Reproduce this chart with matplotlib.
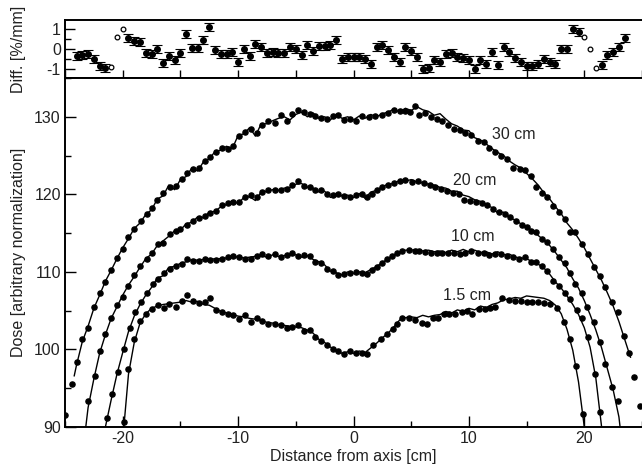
import numpy as np
import matplotlib
matplotlib.use("Agg")
import matplotlib.pyplot as plt
from matplotlib.ticker import MultipleLocator

plt.rcParams['font.family'] = ['Liberation Sans', 'DejaVu Sans']
plt.rcParams['font.size'] = 11.5
plt.rcParams['axes.unicode_minus'] = False

# ---- measured dose profiles (dots) ----
d30_x = [-25.0, -24.4, -24.0, -23.5, -23.0, -22.5, -22.0, -21.5, -21.0, -20.5,
         -20.0, -19.5, -19.0, -18.4, -17.9, -17.5, -17.0, -16.5, -15.9, -15.4,
         -14.9, -14.4, -13.9, -13.4, -12.9, -12.4, -11.9, -11.4, -10.9, -10.4,
         -9.9, -9.4, -8.9, -8.4, -7.9, -7.4, -6.8, -6.3, -5.8, -5.3,
         -4.8, -4.3, -3.8, -3.3, -2.8, -2.3, -1.8, -1.3, -0.8, -0.3,
         0.2, 0.7, 1.3, 1.9, 2.5, 3.0, 3.5, 4.0, 4.5, 4.9,
         5.3, 5.7, 6.2, 6.7, 7.2, 7.7, 8.2, 8.7, 9.2, 9.7,
         10.2, 10.8, 11.3, 11.7, 12.3, 12.8, 13.3, 13.8, 14.4, 14.9,
         15.4, 15.8, 16.3, 16.8, 17.3, 17.8, 18.3, 18.8, 19.2, 19.8,
         20.3, 20.8, 21.4, 21.8, 22.4, 22.9, 23.4, 23.9, 24.3, 24.8]
d30_y = [91.6, 95.6, 98.4, 101.3, 102.8, 105.5, 107.3, 108.7, 110.3, 111.8,
         113.0, 114.5, 115.5, 116.5, 117.5, 118.3, 119.3, 120.2, 120.9, 121.1,
         122.0, 122.7, 123.3, 123.4, 124.3, 124.8, 125.4, 126.0, 125.8, 126.2,
         127.5, 128.1, 128.4, 127.9, 129.0, 129.4, 129.2, 130.2, 129.4, 130.4,
         130.9, 130.6, 130.4, 130.1, 129.9, 129.7, 130.1, 130.2, 129.6, 129.7,
         129.4, 130.1, 130.0, 130.1, 130.2, 130.5, 130.9, 130.7, 130.7, 130.6,
         131.4, 130.2, 130.5, 130.0, 129.7, 129.4, 129.0, 128.4, 128.3, 127.9,
         127.6, 126.9, 126.7, 126.0, 125.4, 124.9, 124.5, 123.4, 123.3, 123.2,
         122.3, 120.9, 120.2, 119.6, 118.5, 117.7, 116.8, 115.1, 115.1, 113.6,
         112.3, 110.6, 109.5, 108.1, 106.1, 104.8, 101.7, 99.5, 96.4, 92.7]

d20_x = [-23.0, -22.4, -22.0, -21.5, -21.0, -20.5, -20.0, -19.5, -19.0, -18.5,
         -17.9, -17.5, -16.9, -16.5, -15.9, -15.4, -15.0, -14.4, -13.9, -13.4,
         -12.9, -12.4, -11.9, -11.4, -10.9, -10.4, -9.9, -9.4, -8.9, -8.4,
         -7.9, -7.4, -6.8, -6.3, -5.8, -5.3, -4.8, -4.3, -3.8, -3.3,
         -2.8, -2.3, -1.8, -1.3, -0.8, -0.3, 0.2, 0.7, 1.2, 1.6,
         2.0, 2.5, 3.0, 3.5, 4.0, 4.5, 5.1, 5.6, 6.1, 6.6,
         7.1, 7.6, 8.1, 8.6, 9.1, 9.6, 10.1, 10.6, 11.1, 11.6,
         12.1, 12.6, 13.1, 13.6, 14.1, 14.6, 15.0, 15.4, 15.8, 16.3,
         16.8, 17.3, 17.8, 18.3, 18.8, 19.2, 19.8, 20.2, 20.8, 21.4,
         21.8, 22.4, 22.9]
d20_y = [93.3, 96.6, 99.8, 102.0, 104.0, 105.7, 106.8, 108.2, 109.6, 110.7,
         111.6, 112.5, 113.6, 113.7, 114.9, 115.3, 115.5, 116.0, 116.6, 117.0,
         117.2, 117.6, 117.9, 118.6, 118.9, 119.0, 119.0, 119.6, 119.9, 119.6,
         120.3, 120.5, 120.5, 120.5, 120.7, 121.2, 121.7, 121.1, 120.9, 120.6,
         120.6, 120.0, 119.9, 120.0, 119.8, 119.7, 119.9, 120.0, 119.7, 120.1,
         120.6, 120.9, 121.2, 121.5, 121.7, 121.8, 121.6, 121.7, 121.4, 121.2,
         121.0, 120.7, 120.4, 120.2, 120.0, 119.3, 119.1, 119.0, 118.9, 118.6,
         118.1, 117.7, 117.4, 117.1, 116.6, 116.0, 115.8, 115.3, 115.1, 114.3,
         113.8, 112.9, 111.9, 111.1, 109.8, 108.5, 107.3, 105.5, 103.5, 100.9,
         98.1, 95.1, 93.3]

d10_x = [-21.4, -20.9, -20.4, -19.9, -19.4, -18.9, -18.4, -17.9, -17.4, -16.9,
         -16.4, -15.9, -15.4, -14.9, -14.4, -13.9, -13.4, -12.9, -12.4, -11.9,
         -11.4, -10.9, -10.4, -9.9, -9.4, -8.9, -8.4, -7.9, -7.4, -6.8,
         -6.3, -5.8, -5.3, -4.8, -4.3, -3.8, -3.3, -2.8, -2.3, -1.8,
         -1.3, -0.8, -0.3, 0.2, 0.7, 1.2, 1.6, 2.0, 2.5, 2.9,
         3.3, 3.8, 4.2, 4.8, 5.3, 5.7, 6.2, 6.7, 7.2, 7.7,
         8.2, 8.7, 9.2, 9.7, 10.2, 10.8, 11.3, 11.7, 12.3, 12.8,
         13.3, 13.8, 14.3, 14.9, 15.4, 15.8, 16.3, 16.8, 17.3, 17.8,
         18.3, 18.8, 19.4, 19.8, 20.3, 20.9, 21.4]
d10_y = [91.1, 94.3, 97.1, 100.0, 102.8, 104.8, 106.1, 107.3, 108.4, 109.1,
         109.9, 110.4, 110.7, 111.0, 111.6, 111.4, 111.4, 111.6, 111.5, 111.5,
         111.6, 111.9, 112.1, 111.9, 111.7, 111.7, 112.0, 112.3, 112.1, 112.3,
         111.9, 112.2, 112.4, 112.1, 112.2, 112.1, 111.3, 111.2, 110.4, 110.1,
         109.6, 109.7, 109.8, 110.0, 109.9, 109.7, 110.3, 110.6, 111.2, 111.6,
         112.1, 112.5, 112.7, 112.8, 112.7, 112.7, 112.6, 112.5, 112.4, 112.5,
         112.4, 112.5, 112.3, 112.5, 112.7, 112.5, 112.4, 112.2, 112.3, 112.3,
         112.1, 111.9, 111.7, 111.9, 111.3, 111.3, 110.8, 110.1, 108.8, 108.2,
         107.3, 106.5, 105.1, 104.0, 101.6, 96.8, 91.9]

d15_x = [-19.9, -19.5, -19.0, -18.5, -18.0, -17.5, -16.9, -16.4, -16.0, -15.4,
         -14.9, -14.4, -13.9, -13.4, -12.9, -12.4, -11.9, -11.4, -10.9, -10.4,
         -9.9, -9.4, -8.9, -8.4, -7.9, -7.4, -6.8, -6.3, -5.8, -5.3,
         -4.8, -4.3, -3.8, -3.3, -2.8, -2.3, -1.8, -1.3, -0.8, -0.3,
         0.2, 0.7, 1.2, 1.7, 2.4, 2.9, 3.4, 3.8, 4.2, 4.8,
         5.3, 5.9, 6.4, 6.9, 7.3, 7.8, 8.3, 8.8, 9.4, 9.8,
         10.3, 10.9, 11.4, 11.8, 12.3, 12.9, 13.5, 14.0, 14.5, 15.0,
         15.5, 16.0, 16.5, 17.0, 17.6, 18.2, 18.8, 19.3, 19.9]
d15_y = [90.6, 97.5, 101.4, 103.7, 104.6, 105.2, 105.7, 105.4, 105.8, 105.5,
         106.3, 107.0, 106.3, 106.0, 106.1, 106.6, 105.1, 104.8, 104.6, 104.4,
         103.9, 104.4, 103.6, 104.0, 103.7, 103.3, 103.3, 103.1, 102.8, 102.9,
         103.1, 102.4, 102.5, 101.6, 101.1, 100.6, 100.1, 99.8, 99.4, 99.8,
         99.6, 99.5, 99.4, 100.6, 101.3, 102.0, 102.6, 103.3, 104.0, 104.0,
         103.8, 103.4, 103.3, 104.0, 104.0, 104.6, 104.6, 104.6, 104.8, 104.9,
         104.6, 105.2, 105.2, 105.4, 105.5, 106.6, 106.4, 106.3, 106.3, 106.1,
         106.1, 106.1, 106.0, 105.8, 105.3, 103.6, 101.4, 97.9, 91.7]

# ---- simulated profiles (lines), sampled every 0.5 cm ----
s30_x = [-24.2] + list(np.arange(-24.0, 24.01, 0.5))
s30_y = [96.6,
         98.0, 101.0, 103.0, 105.3, 107.0, 108.8, 110.2, 111.7, 113.1, 114.3,
         115.6, 116.3, 117.4, 118.0, 119.4, 119.8, 121.2, 120.6, 121.9, 122.3,
         123.4, 123.0, 124.2, 124.6, 125.5, 125.7, 126.2, 125.9, 127.6, 127.8,
         128.6, 127.5, 129.1, 129.1, 129.5, 129.8, 130.0, 129.6, 130.3, 130.6,
         130.0, 130.5, 129.8, 130.0, 129.6, 130.3, 129.8, 130.0, 129.6, 130.1,
         129.8, 130.3, 130.0, 130.4, 130.6, 131.0, 130.6, 131.1, 130.8, 131.3,
         130.9, 130.7, 130.2, 130.4, 129.7, 129.1, 128.8, 128.3, 128.2, 127.3,
         127.0, 126.5, 125.9, 125.4, 125.0, 124.3, 123.8, 123.4, 122.7, 122.0,
         121.2, 120.2, 119.4, 118.4, 117.5, 116.3, 115.4, 114.3, 113.1, 111.7,
         110.3, 108.9, 107.3, 105.6, 103.6, 101.3, 99.0]

s20_x = [-23.2] + list(np.arange(-23.0, 23.01, 0.5)) + [23.1]
s20_y = [90.0,
         92.5, 96.2, 99.5, 101.9, 104.0, 105.5, 107.0, 108.3, 109.4, 110.6,
         111.7, 112.3, 113.4, 114.0, 114.6, 115.3, 115.4, 116.2, 116.4, 117.1,
         117.0, 117.7, 117.8, 118.4, 118.7, 119.2, 118.8, 119.6, 119.7, 119.2,
         120.3, 120.4, 120.6, 120.5, 120.8, 120.9, 121.3, 121.4, 120.9, 120.8,
         120.3, 120.4, 119.6, 120.1, 119.8, 119.9, 119.6, 120.1, 119.5, 120.3,
         120.5, 121.0, 121.3, 121.4, 121.8, 121.7, 121.9, 121.6, 121.5, 121.3,
         121.2, 120.9, 120.8, 120.4, 120.4, 119.9, 119.7, 119.3, 119.1, 118.6,
         118.3, 117.6, 117.7, 117.0, 116.7, 116.2, 115.8, 115.3, 114.7, 114.1,
         113.4, 112.5, 111.5, 110.5, 109.1, 107.9, 106.3, 104.5, 102.5, 100.2,
         97.5, 94.8, 91.3,
         90.0]

s10_x = [-21.5] + list(np.arange(-21.0, 21.01, 0.5)) + [21.5]
s10_y = [90.0,
         93.5, 96.8, 99.6, 102.3, 104.3, 105.8, 107.0, 108.0, 109.2, 109.5,
         110.6, 110.7, 111.1, 111.3, 111.6, 111.5, 111.6, 111.6, 111.7, 111.7,
         111.8, 112.0, 111.9, 111.8, 111.9, 112.0, 112.1, 111.9, 112.2, 112.0,
         112.1, 112.3, 112.2, 111.9, 112.1, 111.6, 111.3, 110.9, 110.1, 109.9,
         109.6, 110.0, 109.8, 110.0, 109.9, 110.3, 110.7, 111.2, 111.7, 112.2,
         112.5, 112.8, 112.8, 112.9, 112.7, 112.8, 112.6, 112.7, 112.5, 112.8,
         112.6, 112.9, 112.6, 112.8, 112.5, 112.6, 112.3, 112.6, 112.2, 112.3,
         111.9, 111.8, 111.7, 111.3, 111.0, 110.5, 109.7, 108.7, 107.9, 106.9,
         105.8, 104.5, 102.8, 100.3, 96.3,
         90.0]

s15_x = [-19.9] + list(np.arange(-19.5, 19.51, 0.5)) + [20.0]
s15_y = [90.0,
         96.8, 100.9, 103.4, 104.6, 105.3, 105.6, 105.8, 105.9, 106.0, 106.1,
         106.3, 106.1, 106.2, 105.8, 105.7, 105.3, 104.9, 104.7, 104.5, 104.3,
         104.2, 104.0, 103.9, 103.7, 103.5, 103.4, 103.2, 103.1, 103.0, 102.9,
         102.8, 102.5, 102.1, 101.3, 100.9, 100.3, 99.9, 99.5, 99.7, 99.5,
         99.8, 99.6, 100.2, 100.8, 101.5, 102.1, 102.9, 103.8, 104.1, 104.2,
         104.1, 104.4, 104.2, 104.4, 104.5, 104.9, 104.7, 105.1, 104.9, 105.3,
         105.1, 105.6, 105.4, 105.8, 106.0, 106.4, 106.5, 106.7, 106.6, 106.9,
         106.8, 106.7, 106.6, 106.3, 105.7, 104.6, 102.6, 99.9, 95.8,
         90.0]

depth_labels = ['30 cm', '20 cm', '10 cm', '1.5 cm']
label_x = [13.9, 10.5, 10.3, 9.8]
label_y = [127.7, 121.8, 114.6, 107.0]

# ---- difference panel ----
diff_x = [-24.0, -23.5, -23.0, -22.5, -22.0, -21.5, -21.0, -20.5, -20.0, -19.5,
          -19.0, -18.5, -18.0, -17.5, -17.0, -16.5, -16.0, -15.5, -15.0, -14.5,
          -14.0, -13.5, -13.0, -12.5, -12.0, -11.5, -11.0, -10.5, -10.0, -9.5,
          -9.0, -8.5, -8.0, -7.5, -7.0, -6.5, -6.0, -5.5, -5.0, -4.5,
          -4.0, -3.5, -3.0, -2.5, -2.0, -1.5, -1.0, -0.5, 0.0, 0.5,
          1.0, 1.5, 2.0, 2.5, 3.0, 3.5, 4.0, 4.5, 5.0, 5.5,
          6.0, 6.5, 7.0, 7.5, 8.0, 8.5, 9.0, 9.5, 10.0, 10.5,
          11.0, 11.5, 12.0, 12.5, 13.0, 13.5, 14.0, 14.5, 15.0, 15.5,
          16.0, 16.5, 17.0, 17.5, 18.0, 18.5, 19.0, 19.5, 20.0, 20.5,
          21.0, 21.5, 22.0, 22.5, 23.0, 23.5]
diff_y = [-0.33, -0.28, -0.26, -0.50, -0.85, -0.97, -0.90, 0.62, 1.02, 0.55,
          0.42, 0.33, -0.22, -0.24, -0.02, -0.71, -0.36, -0.57, -0.19, 0.76,
          0.03, 0.03, 0.47, 1.08, -0.07, -0.24, -0.24, -0.14, -0.66, 0.00,
          -0.36, 0.24, 0.12, -0.19, -0.14, -0.22, -0.22, 0.10, -0.02, -0.31,
          0.20, -0.10, 0.14, 0.14, 0.20, 0.45, -0.49, -0.40, -0.38, -0.40,
          -0.49, -0.75, 0.10, 0.19, -0.03, -0.40, -0.63, 0.09, -0.10, -0.42,
          -1.00, -0.94, -0.57, -0.63, -0.24, -0.19, -0.42, -0.45, -0.57, -1.00,
          -0.54, -0.75, -0.14, -0.80, 0.09, -0.14, -0.47, -0.63, -0.83, -0.83,
          -0.73, -0.52, -0.63, -0.73, 0.00, 0.00, 0.99, 0.83, 0.61, 0.00,
          -0.97, -0.80, -0.31, -0.14, 0.10, 0.56]
diff_err = 0.2
open_x = [-21.0, -20.5, -20.0, 20.0, 20.5, 21.0]

fig = plt.figure(figsize=(6.42, 4.68), dpi=100)
left = 65 / 642
width = 1.0 - left
ax_d = fig.add_axes([left, 1 - 78 / 468, width, 58 / 468])
ax = fig.add_axes([left, 1 - 427 / 468, width, 349 / 468])

# main panel
for sx, sy, dx, dy in [(s30_x, s30_y, d30_x, d30_y), (s20_x, s20_y, d20_x, d20_y),
                       (s10_x, s10_y, d10_x, d10_y), (s15_x, s15_y, d15_x, d15_y)]:
    ax.plot(sx, sy, color='black', lw=1.0)
    ax.plot(dx, dy, 'o', color='black', ms=3.7)

for t, tx, ty in zip(depth_labels, label_x, label_y):
    ax.text(tx, ty, t, ha='center', va='center', color='#222222')

ax.set_xlim(-25, 25)
ax.set_ylim(90, 135)
ax.xaxis.set_major_locator(MultipleLocator(10))
ax.xaxis.set_minor_locator(MultipleLocator(5))
ax.yaxis.set_major_locator(MultipleLocator(10))
ax.yaxis.set_minor_locator(MultipleLocator(5))
ax.tick_params(which='major', direction='in', length=8, width=1, pad=3,
               top=False, right=False, labelcolor='#222222')
ax.tick_params(which='minor', direction='in', length=4, width=1,
               top=False, right=False)
ax.set_xlabel('Distance from axis [cm]', labelpad=2, color='#222222')
ax.set_ylabel('Dose [arbitrary normalization]', color='#222222')
ax.yaxis.set_label_coords(-0.068, 0.5)

# difference panel
dx_arr = np.array(diff_x)
dy_arr = np.array(diff_y)
is_open = np.isin(dx_arr, open_x)
ax_d.errorbar(dx_arr[~is_open], dy_arr[~is_open], yerr=diff_err, fmt='o',
              color='black', ms=4.0, elinewidth=0.8, capsize=3.6, capthick=0.8)
ax_d.plot(dx_arr[is_open], dy_arr[is_open], 'o', mfc='white', mec='black',
          ms=3.4, mew=0.9)
ax_d.set_xlim(-25, 25)
ax_d.set_ylim(-1.45, 1.45)
ax_d.set_yticks([-1, 0, 1])
ax_d.set_yticklabels(['-1', '0', '1'])
ax_d.yaxis.set_minor_locator(MultipleLocator(0.5))
ax_d.xaxis.set_major_locator(MultipleLocator(5))
ax_d.tick_params(axis='x', direction='in', length=6, width=1, labelbottom=False,
                 top=False)
ax_d.tick_params(axis='y', which='major', direction='in', length=7, width=1,
                 pad=3, right=False, labelcolor='#222222')
ax_d.tick_params(axis='y', which='minor', direction='in', length=4, width=1,
                 right=False)
ax_d.set_ylabel('Diff. [%/mm]', color='#222222')
ax_d.yaxis.set_label_coords(-0.068, 0.5)

for a in (ax, ax_d):
    for s in a.spines.values():
        s.set_linewidth(1.4)
    a.spines['right'].set_visible(False)

fig.savefig('out.png', dpi=100)
